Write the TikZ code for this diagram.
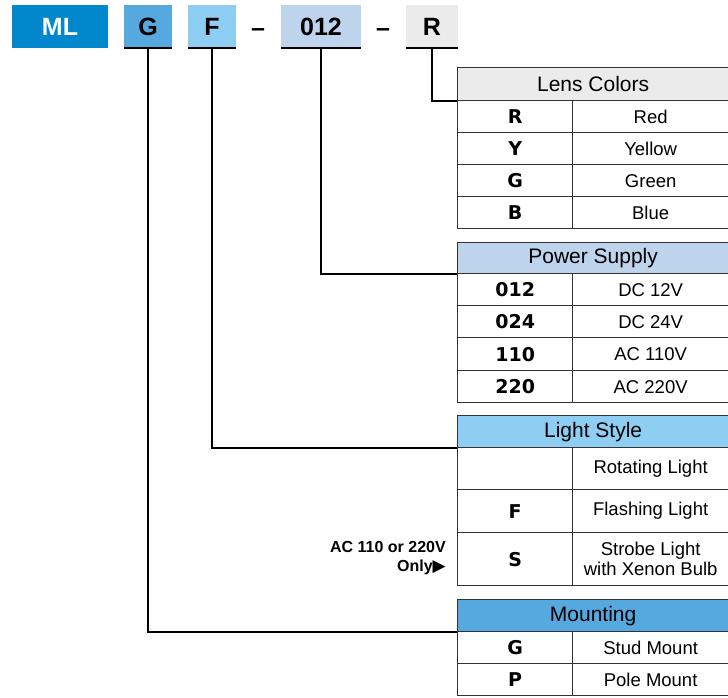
\documentclass[tikz,border=0pt]{standalone}
\usepackage{fontspec}
\setmainfont{Liberation Sans}
\newfontfamily\codefont{DejaVu Sans}
\newfontfamily\symfont{DejaVu Sans}
\definecolor{mlblue}{HTML}{0087CC}
\definecolor{gblue}{HTML}{55A9DF}
\definecolor{fblue}{HTML}{8FCEF3}
\definecolor{pblue}{HTML}{BED4EC}
\definecolor{rgray}{HTML}{EBEBEB}
\definecolor{tline}{HTML}{333333}
\begin{document}
\begin{tikzpicture}[x=1pt,y=-1pt,
  topbox/.style={inner sep=0pt, minimum height=43pt, font=\fontsize{25}{28}\selectfont\bfseries},
  dashtxt/.style={inner sep=0pt, font=\fontsize{25}{28}\selectfont\bfseries},
  hdr/.style={draw=tline, line width=1.3pt, anchor=north west, inner sep=0pt, minimum width=271pt, font=\fontsize{21}{24}\selectfont},
  lcell/.style={draw=tline, line width=1.3pt, anchor=north west, inner sep=0pt, minimum width=115pt, font=\fontsize{19}{22}\selectfont\codefont\bfseries},
  rcell/.style={draw=tline, line width=1.3pt, anchor=north west, inner sep=0pt, minimum width=156pt, align=center, font=\fontsize{18.5}{22}\selectfont},
  conn/.style={draw=black, line width=2pt},
  uline/.style={draw=black, line width=2.2pt}
]
\useasboundingbox (0,0) rectangle (728,697);
\fill[white] (0,0) rectangle (728,697);

% top code row
\node[topbox, fill=mlblue, text=white, minimum width=96pt] (ml) at (60,26.5) {ML};
\node[topbox, fill=gblue, minimum width=48pt] (g) at (148,26.5) {G};
\node[topbox, fill=fblue, minimum width=48pt] (f) at (212,26.5) {F};
\node[dashtxt] (d1) at (258,33) {--};
\node[topbox, fill=pblue, minimum width=80pt] (p) at (321,26.5) {012};
\node[dashtxt] (d2) at (383,33) {--};
\node[topbox, fill=rgray, minimum width=52pt] (r) at (432,26.5) {R};
\foreach \b in {g,f,p,r} \draw[uline] (\b.south west) -- (\b.south east);

% Lens Colors
\node[hdr, fill=rgray, minimum height=33pt] (lh) at (457,67) {Lens Colors};
\node[lcell, minimum height=32pt] (l1a) at (457,100) {R};
\node[rcell, minimum height=32pt] (l1b) at (572,100) {Red};
\node[lcell, minimum height=32pt] (l2a) at (457,132) {Y};
\node[rcell, minimum height=32pt] (l2b) at (572,132) {Yellow};
\node[lcell, minimum height=32pt] (l3a) at (457,164) {G};
\node[rcell, minimum height=32pt] (l3b) at (572,164) {Green};
\node[lcell, minimum height=32pt] (l4a) at (457,196) {B};
\node[rcell, minimum height=32pt] (l4b) at (572,196) {Blue};

% Power Supply
\node[hdr, fill=pblue, minimum height=31pt] (ph) at (457,242) {Power Supply};
\node[lcell, minimum height=32pt] (p1a) at (457,273) {012};
\node[rcell, minimum height=32pt] (p1b) at (572,273) {DC 12V};
\node[lcell, minimum height=32pt] (p2a) at (457,305) {024};
\node[rcell, minimum height=32pt] (p2b) at (572,305) {DC 24V};
\node[lcell, minimum height=33pt] (p3a) at (457,337) {110};
\node[rcell, minimum height=33pt] (p3b) at (572,337) {AC 110V};
\node[lcell, minimum height=32pt] (p4a) at (457,370) {220};
\node[rcell, minimum height=32pt] (p4b) at (572,370) {AC 220V};

% Light Style
\node[hdr, fill=fblue, minimum height=32pt] (sh) at (457,415) {Light Style};
\node[lcell, minimum height=42pt] (s1a) at (457,447) {};
\node[rcell, minimum height=42pt] (s1b) at (572,447) {Rotating Light};
\node[lcell, minimum height=43pt] (s2a) at (457,489) {F};
\node[rcell, minimum height=43pt] (s2b) at (572,489) {Flashing Light};
\node[lcell, minimum height=53pt] (s3a) at (457,532) {S};
\node[rcell, minimum height=53pt] (s3b) at (572,532) {Strobe Light\\[-2pt]with Xenon Bulb};
\node[anchor=east, align=right, inner sep=0pt, font=\fontsize{16}{18.5}\selectfont\bfseries] (note) at (446,558) {AC 110 or 220V\\Only{\symfont\fontsize{17}{18}\selectfont ▶}};

% Mounting
\node[hdr, fill=gblue, minimum height=32pt] (mh) at (457,599) {Mounting};
\node[lcell, minimum height=32pt] (m1a) at (457,631) {G};
\node[rcell, minimum height=32pt] (m1b) at (572,631) {Stud Mount};
\node[lcell, minimum height=32pt] (m2a) at (457,663) {P};
\node[rcell, minimum height=32pt] (m2b) at (572,663) {Pole Mount};

% connectors
\draw[conn] (r.south) |- (lh.south west);
\draw[conn] (p.south) |- (ph.south west);
\draw[conn] (f.south) |- (sh.south west);
\draw[conn] (g.south) |- (mh.south west);
\end{tikzpicture}
\end{document}
